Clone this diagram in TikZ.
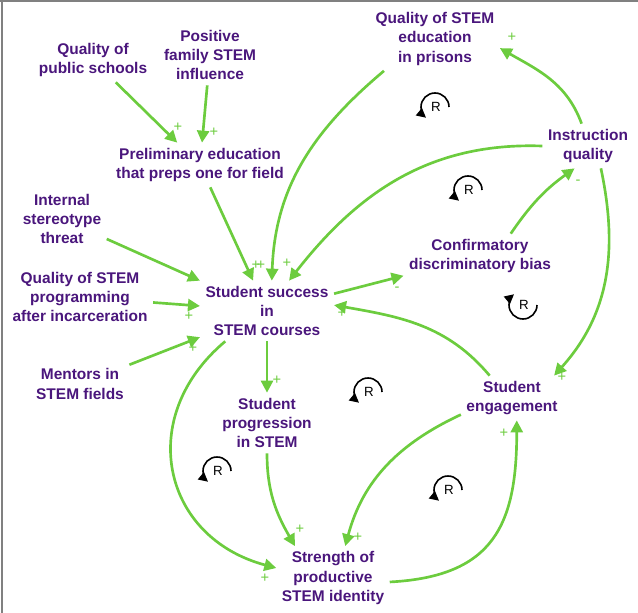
\documentclass[tikz,border=0pt]{standalone}
\usepackage{fontspec}
\setmainfont{Liberation Sans}
\usetikzlibrary{arrows.meta}
\definecolor{cldgreen}{RGB}{108,204,62}
\definecolor{cldpurple}{RGB}{74,22,124}
\begin{document}
\begin{tikzpicture}[x=0.75pt,y=0.75pt,
  var/.style={align=center,text=cldpurple,font=\fontsize{11.6}{14.3}\selectfont\bfseries,inner sep=4pt},
  link/.style={draw=cldgreen,line width=2pt,-{Triangle[length=9pt,width=9pt]}},
  pol/.style={text=cldgreen,font=\fontsize{11}{11}\selectfont,inner sep=0pt},
  loopR/.style={line width=1.2pt,-{Triangle[length=7pt,width=7pt]}}]
\useasboundingbox (0,0) rectangle (638,-613);
\draw[line width=1.5pt,black!50](0,-1)--(638,-1);
\draw[line width=1.5pt,black!50](2,0)--(2,-613);
% variables
\node[var] (qps) at (93,-60) {Quality of\\public schools};
\node[var] (pfs) at (210,-55) {Positive\\family STEM\\influence};
\node[var] (prel) at (200,-165) {Preliminary education\\that preps one for field};
\node[var] (ist) at (62,-219) {Internal\\stereotype\\threat};
\node[var] (qsp) at (80,-297) {Quality of STEM\\programming\\after incarceration};
\node[var] (ment) at (80,-384) {Mentors in\\STEM fields};
\node[var] (succ) at (267,-311) {Student success\\in\\STEM courses};
\node[var] (prog) at (267,-423) {Student\\progression\\in STEM};
\node[var] (iden) at (333,-578) {Strength of\\productive\\STEM identity};
\node[var] (eng) at (512,-398) {Student\\engagement};
\node[var] (conf) at (480,-256) {Confirmatory\\discriminatory bias};
\node[var] (instr) at (588,-146) {Instruction\\quality};
\node[var] (prison) at (435,-39) {Quality of STEM\\education\\in prisons};
% links
\draw[link] (qps) -- (prel);
\draw[link] (pfs) -- (prel);
\draw[link] (prel) -- (succ);
\draw[link] (prison.212) to[out=220,in=88] (succ.81);
\draw[link] (instr.west) to[out=178,in=52] (succ.54);
\draw[link] (ist) -- (succ.north west);
\draw[link] (qsp) -- (succ);
\draw[link] (ment) -- (succ);
\draw[link] (succ) -- (conf);
\draw[link] (conf.36) to[bend left=10] (instr.239);
\draw[link] (instr.106) to[out=110,in=330] (prison.-8);
\draw[link] (instr.-60) to[out=-78,in=48] (eng.28);
\draw[link] (eng.135) to[out=130,in=-10] (succ.5);
\draw[link] (succ) -- (prog);
\draw[link] (succ.216) to[out=220,in=165,looseness=1.3] (iden.170);
\draw[link] (prog.south) to[out=-90,in=120] (iden.140);
\draw[link] (eng.198) to[out=205,in=75] (iden.69);
\draw[link] (iden.-4) to[out=3,in=-90,looseness=1.3] (eng.-78);
% polarities
\foreach \sx/\sy/\sg [count=\i] in {178/127/+,214/132/+,256/265/+,261/265/+,287/263/+,
  189/316/+,193/348/+,397/289/-,342/313/+,578/182/-,512/37/+,562/377/+,
  277/380/+,265/578/+,300/529/+,358/537/+,504/433/+}
  \node[pol] (sign\i) at (\sx,-\sy) {\sg};
% loops
\foreach \cx/\cy in {435/107,468/190,368/392,217/471,448/490}{
  \draw[loopR] (\cx+14,-\cy) arc[start angle=0,end angle=230,radius=14];
  \node[font=\fontsize{10}{10}\selectfont,inner sep=0pt] (loop\cx) at (\cx+1,-\cy) {R};
}
\draw[loopR] (537,-305) arc[start angle=0,end angle=-230,radius=14];
\node[font=\fontsize{10}{10}\selectfont,inner sep=0pt] (loop523) at (524,-305) {R};
\end{tikzpicture}
\end{document}
